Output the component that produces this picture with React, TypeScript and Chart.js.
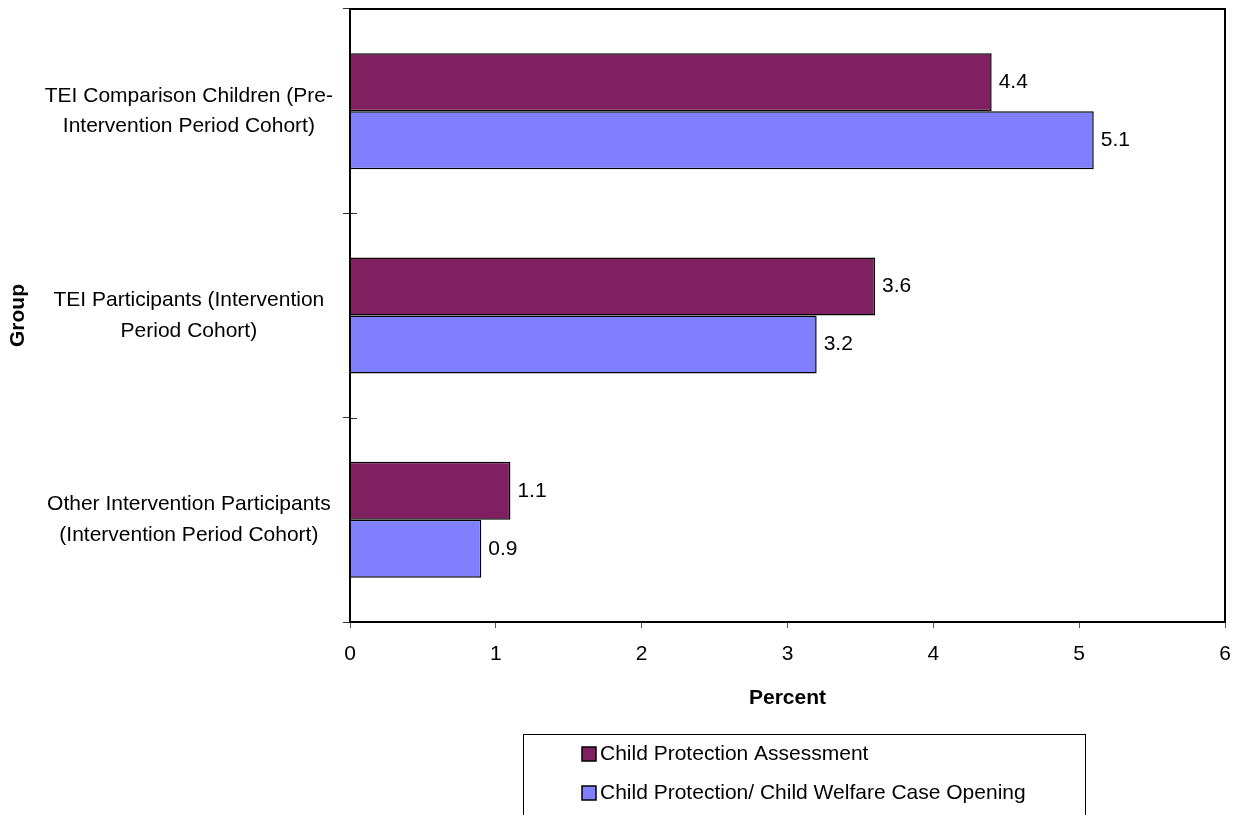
import React, { useEffect, useRef } from "react";
import { Chart, registerables } from "chart.js";

Chart.register(...registerables);

const categories: string[][] = [
  ["TEI Comparison Children (Pre-", "Intervention Period Cohort)"],
  ["TEI Participants (Intervention", "Period Cohort)"],
  ["Other Intervention Participants", "(Intervention Period Cohort)"],
];
const seriesNames: string[] = [
  "Child Protection Assessment",
  "Child Protection/ Child Welfare Case Opening",
];
const assessmentValues: number[] = [4.4, 3.6, 1.1];
const caseOpeningValues: number[] = [5.1, 3.2, 0.9];
const xMin = 0;
const xMax = 6;
const xStep = 1;
const seriesColors: string[] = ["#802060", "#8080FF"];

const FONT = "'Liberation Sans', Arial, Helvetica, sans-serif";

const zeroPad = (s: any) => {
  s.paddingTop = 0;
  s.paddingBottom = 0;
  s.paddingLeft = 0;
  s.paddingRight = 0;
};

const valueLabelPlugin = {
  id: "valueLabels",
  afterDatasetsDraw(chart: any) {
    const ctx = chart.ctx;
    ctx.save();
    ctx.font = `21px ${FONT}`;
    ctx.fillStyle = "#000";
    ctx.textAlign = "left";
    ctx.textBaseline = "middle";
    chart.data.datasets.forEach((ds: any, di: number) => {
      const meta = chart.getDatasetMeta(di);
      meta.data.forEach((el: any, i: number) => {
        const v = ds.data[i] as number;
        ctx.fillText(v.toFixed(1), el.x + 7, el.y);
      });
    });
    ctx.restore();
  },
};

const framePlugin = {
  id: "frame",
  afterDraw(chart: any) {
    const { ctx, chartArea } = chart;
    const yScale = chart.scales.y;
    ctx.save();
    ctx.strokeStyle = "#333";
    ctx.lineWidth = 1;
    const n = chart.data.labels.length;
    for (let i = 0; i <= n; i++) {
      const y = Math.round(yScale.top + (i * (yScale.bottom - yScale.top)) / n) + 0.5;
      ctx.beginPath();
      ctx.moveTo(chartArea.left, y);
      ctx.lineTo(chartArea.left + 7, y);
      ctx.stroke();
    }
    ctx.strokeStyle = "#000";
    ctx.lineWidth = 2;
    ctx.strokeRect(
      chartArea.left,
      chartArea.top,
      chartArea.right - chartArea.left,
      chartArea.bottom - chartArea.top
    );
    ctx.restore();
  },
};

const boxLegendPlugin = {
  id: "boxLegend",
  afterDraw(chart: any) {
    const ctx = chart.ctx;
    ctx.save();
    const left = 523;
    const top = 734;
    const right = 1085;
    const bottom = 840;
    ctx.strokeStyle = "#000";
    ctx.lineWidth = 1;
    ctx.strokeRect(left + 0.5, top + 0.5, right - left, bottom - top);
    ctx.font = `21px ${FONT}`;
    ctx.textBaseline = "middle";
    ctx.textAlign = "left";
    chart.data.datasets.forEach((ds: any, i: number) => {
      const cy = 754 + i * 39;
      ctx.fillStyle = ds.backgroundColor;
      ctx.fillRect(582, cy - 7, 14, 14);
      ctx.strokeStyle = "#000";
      ctx.lineWidth = 1.5;
      ctx.strokeRect(582, cy - 7, 14, 14);
      ctx.fillStyle = "#000";
      ctx.fillText(ds.label, 600, cy);
    });
    ctx.restore();
  },
};

export default function App() {
  const canvasRef = useRef<HTMLCanvasElement>(null);

  useEffect(() => {
    if (!canvasRef.current) return;
    const chart = new Chart(canvasRef.current, {
      type: "bar",
      data: {
        labels: categories,
        datasets: [
          {
            label: seriesNames[0],
            data: assessmentValues,
            backgroundColor: seriesColors[0],
            borderColor: "#000",
            borderWidth: 1.5,
            barPercentage: 1,
            categoryPercentage: 0.568,
          },
          {
            label: seriesNames[1],
            data: caseOpeningValues,
            backgroundColor: seriesColors[1],
            borderColor: "#000",
            borderWidth: 1.5,
            barPercentage: 1,
            categoryPercentage: 0.568,
          },
        ],
      },
      options: {
        indexAxis: "y",
        responsive: true,
        maintainAspectRatio: false,
        animation: false,
        events: [],
        layout: { padding: { left: 0, top: 9, right: 12, bottom: 0 } },
        plugins: {
          legend: { display: false },
          tooltip: { enabled: false },
        },
        scales: {
          x: {
            min: xMin,
            max: xMax,
            afterFit: (s: any) => {
              s.height = 193;
              zeroPad(s);
            },
            ticks: {
              stepSize: xStep,
              font: { family: FONT, size: 21 },
              color: "#000",
              padding: 14,
            },
            grid: {
              drawOnChartArea: false,
              tickLength: 6,
              color: "#555",
              lineWidth: 1,
            },
            border: { display: true, color: "#000", width: 2 },
            title: {
              display: true,
              text: "Percent",
              font: { family: FONT, size: 21, weight: "bold" },
              color: "#000",
              padding: { top: 0, bottom: 104 },
            },
          },
          y: {
            afterFit: (s: any) => {
              s.width = 350;
              zeroPad(s);
            },
            ticks: {
              font: { family: FONT, size: 21, lineHeight: 1.45 },
              color: "#000",
              crossAlign: "center",
              padding: 10,
            },
            grid: {
              drawOnChartArea: false,
              tickLength: 7,
              color: "#333",
              lineWidth: 1,
            },
            border: { display: true, color: "#000", width: 2 },
            title: {
              display: true,
              text: "Group",
              font: { family: FONT, size: 21, weight: "bold" },
              color: "#000",
              padding: { top: 6, bottom: 0 },
            },
          },
        },
      },
      plugins: [valueLabelPlugin, framePlugin, boxLegendPlugin],
    } as any);
    return () => chart.destroy();
  }, []);

  return (
    <div
      style={{
        position: "absolute",
        left: 0,
        top: 0,
        width: 1237,
        height: 815,
        background: "#fff",
      }}
    >
      <canvas ref={canvasRef} />
    </div>
  );
}
